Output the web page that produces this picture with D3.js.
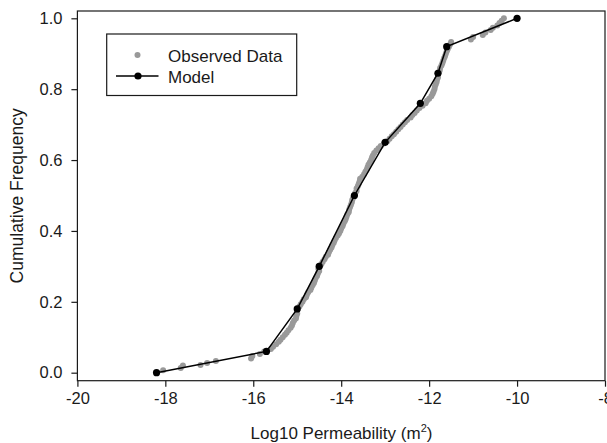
<!DOCTYPE html>
<html>
<head>
<meta charset="utf-8">
<script src="https://cdn.jsdelivr.net/npm/d3@7"></script>
<style>
  body { margin: 0; background: #fff; }
  svg { display: block; font-family: "Liberation Sans", Arial, sans-serif; }
</style>
</head>
<body>
<svg></svg>
<script>
// model curve (black)
var modelX = [-18.2, -15.7, -15.0, -14.5, -13.7, -13.0, -12.2, -11.8, -11.6, -10.0];
var modelY = [0.0, 0.06, 0.18, 0.30, 0.50, 0.65, 0.76, 0.845, 0.92, 1.0];

// observed data (grey)
var obsX = [-18.05, -17.65, -17.6, -17.2, -17.05, -16.85, -16.05, -16.02, -15.85, -15.75,
  -15.6, -15.55, -15.48, -15.42, -15.38, -15.33, -15.28, -15.24, -15.2, -15.15, -15.12, -15.1, -15.07, -15.03, -15.02, -15.0,
  -14.95, -14.92, -14.88, -14.85, -14.8, -14.78, -14.75, -14.7, -14.68, -14.65, -14.62, -14.6, -14.58, -14.55, -14.53, -14.5, -14.52, -14.48,
  -14.45, -14.42, -14.38, -14.35, -14.3, -14.28, -14.25, -14.22, -14.2, -14.17, -14.15, -14.12, -14.08, -14.05, -14.02, -14.0, -13.97, -13.95, -13.92, -13.9, -13.88, -13.86, -13.83, -13.82, -13.8, -13.78, -13.76, -13.75, -13.73, -13.7,
  -13.68, -13.65, -13.65, -13.62, -13.6, -13.58, -13.57, -13.52, -13.48, -13.45, -13.42, -13.4, -13.38, -13.35, -13.32, -13.3, -13.28, -13.25, -13.2, -13.15, -13.1, -13.03,
  -12.95, -12.9, -12.85, -12.8, -12.75, -12.7, -12.65, -12.6, -12.55, -12.5, -12.42, -12.38, -12.33, -12.28, -12.22, -12.15, -12.08, -12.05,
  -12.0, -11.95, -11.92, -11.9, -11.88, -11.87, -11.85, -11.83, -11.82, -11.8, -11.8,
  -11.78, -11.76, -11.75, -11.72, -11.7, -11.68, -11.66, -11.64, -11.62, -11.6, -11.58, -11.55, -11.52, -11.5,
  -11.05, -11.0, -10.78, -10.72, -10.6, -10.55, -10.45, -10.4, -10.35, -10.3];
var obsY = [0.007, 0.013, 0.02, 0.022, 0.027, 0.033, 0.04, 0.047, 0.053, 0.06,
  0.067, 0.073, 0.08, 0.087, 0.093, 0.1, 0.107, 0.113, 0.12, 0.127, 0.133, 0.14, 0.147, 0.153, 0.16, 0.167,
  0.187, 0.193, 0.2, 0.207, 0.213, 0.22, 0.227, 0.233, 0.24, 0.247, 0.253, 0.26, 0.267, 0.273, 0.28, 0.287, 0.293, 0.3,
  0.307, 0.313, 0.32, 0.327, 0.333, 0.34, 0.347, 0.353, 0.36, 0.367, 0.373, 0.38, 0.387, 0.393, 0.4, 0.407, 0.413, 0.42, 0.427, 0.433, 0.44, 0.447, 0.453, 0.46, 0.467, 0.473, 0.48, 0.487, 0.493, 0.5,
  0.507, 0.513, 0.52, 0.527, 0.533, 0.54, 0.547, 0.553, 0.56, 0.567, 0.573, 0.58, 0.587, 0.593, 0.6, 0.607, 0.613, 0.62, 0.627, 0.633, 0.64, 0.647,
  0.653, 0.66, 0.667, 0.673, 0.68, 0.687, 0.693, 0.7, 0.707, 0.713, 0.72, 0.727, 0.733, 0.74, 0.747, 0.753, 0.76, 0.767,
  0.773, 0.78, 0.787, 0.793, 0.8, 0.807, 0.813, 0.82, 0.827, 0.833, 0.84,
  0.847, 0.853, 0.86, 0.867, 0.873, 0.88, 0.887, 0.893, 0.9, 0.907, 0.913, 0.92, 0.927, 0.933,
  0.94, 0.947, 0.953, 0.96, 0.967, 0.973, 0.98, 0.987, 0.993, 1.0];

var xTicks = [-20, -18, -16, -14, -12, -10, -8];
var yTicks = [0.0, 0.2, 0.4, 0.6, 0.8, 1.0];

var width = 607, height = 443;
var plotLeft = 77.4, plotRight = 605, plotTop = 11, plotBottom = 380.7;
var ink = "#1a1a1a";

var svg = d3.select("svg")
  .attr("width", width)
  .attr("height", height);

var x = d3.scaleLinear().domain([-20, -8]).range([plotLeft, plotRight]);
var y = d3.scaleLinear().domain([-0.0226, 1.0206]).range([plotBottom, plotTop]);

// frame
svg.append("rect")
  .attr("x", plotLeft).attr("y", plotTop)
  .attr("width", plotRight - plotLeft).attr("height", plotBottom - plotTop)
  .attr("fill", "none")
  .attr("stroke", ink)
  .attr("stroke-width", 1.2);

var xAxis = svg.append("g")
  .attr("transform", "translate(0," + plotBottom + ")")
  .call(d3.axisBottom(x).tickValues(xTicks).tickSize(6).tickPadding(5)
    .tickFormat(function(d) { return String(d); }));

var yAxis = svg.append("g")
  .attr("transform", "translate(" + plotLeft + ",0)")
  .call(d3.axisLeft(y).tickValues(yTicks).tickSize(6).tickPadding(9)
    .tickFormat(function(d) { return d.toFixed(1); }));

[xAxis, yAxis].forEach(function(ax) {
  ax.select(".domain").remove();
  ax.selectAll("line").attr("stroke", ink).attr("stroke-width", 1.2);
  ax.selectAll("text")
    .attr("fill", ink)
    .style("font-size", "16.5px")
    .style("font-family", "'Liberation Sans', Arial, sans-serif");
});
xAxis.selectAll("text").attr("dy", "0.75em");

// axis titles
var xTitle = svg.append("text")
  .attr("x", 341.5).attr("y", 439)
  .attr("text-anchor", "middle")
  .attr("fill", ink)
  .style("font-size", "17px");
xTitle.append("tspan").text("Log10 Permeability (m");
xTitle.append("tspan").attr("dy", -7).style("font-size", "11px").text("2");
xTitle.append("tspan").attr("dy", 7).text(")");

svg.append("text")
  .attr("transform", "translate(23," + ((plotTop + plotBottom) / 2) + ") rotate(-90)")
  .attr("text-anchor", "middle")
  .attr("fill", ink)
  .style("font-size", "17.5px")
  .text("Cumulative Frequency");

// observed points
var obs = obsX.map(function(d, i) { return [d, obsY[i]]; });
svg.append("g").selectAll("circle")
  .data(obs)
  .enter()
  .append("circle")
  .attr("cx", function(d) { return x(d[0]); })
  .attr("cy", function(d) { return y(d[1]); })
  .attr("r", 3)
  .attr("fill", "#999");

// model line + points
var model = modelX.map(function(d, i) { return [d, modelY[i]]; });
var line = d3.line()
  .x(function(d) { return x(d[0]); })
  .y(function(d) { return y(d[1]); });

svg.append("path")
  .datum(model)
  .attr("d", line)
  .attr("fill", "none")
  .attr("stroke", "#000")
  .attr("stroke-width", 1.5);

svg.append("g").selectAll("circle")
  .data(model)
  .enter()
  .append("circle")
  .attr("cx", function(d) { return x(d[0]); })
  .attr("cy", function(d) { return y(d[1]); })
  .attr("r", 3.6)
  .attr("fill", "#000");

// legend
var legend = svg.append("g");
legend.append("rect")
  .attr("x", 106.7).attr("y", 34)
  .attr("width", 190).attr("height", 61.5)
  .attr("fill", "#fff")
  .attr("stroke", ink)
  .attr("stroke-width", 1.2);
legend.append("circle")
  .attr("cx", 137.5).attr("cy", 55).attr("r", 3).attr("fill", "#999");
legend.append("text")
  .attr("x", 168).attr("y", 61.5)
  .attr("fill", ink)
  .style("font-size", "17px")
  .text("Observed Data");
legend.append("line")
  .attr("x1", 116).attr("x2", 158.5)
  .attr("y1", 76).attr("y2", 76)
  .attr("stroke", "#000").attr("stroke-width", 1.5);
legend.append("circle")
  .attr("cx", 138).attr("cy", 76).attr("r", 3.6).attr("fill", "#000");
legend.append("text")
  .attr("x", 168).attr("y", 83)
  .attr("fill", ink)
  .style("font-size", "17px")
  .text("Model");
</script>
</body>
</html>
